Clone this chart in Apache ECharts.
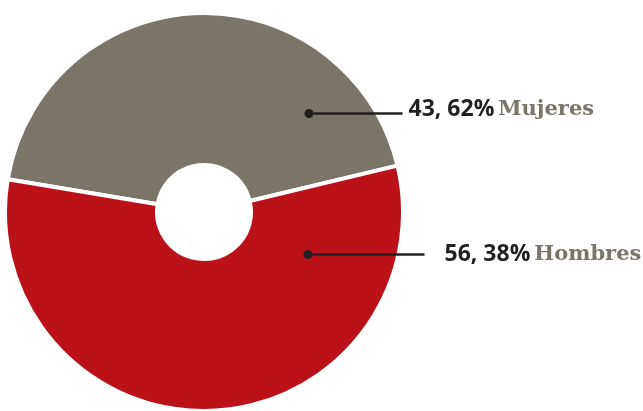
<!DOCTYPE html>
<html>
<head>
<meta charset="utf-8">
<script src="https://cdn.jsdelivr.net/npm/echarts@6/dist/echarts.min.js"></script>
<style>
html,body{margin:0;padding:0;background:#fff;}
#chart{width:643px;height:411px;}
</style>
</head>
<body>
<div id="chart"></div>
<script>
// Data
const categories = ['Mujeres', 'Hombres'];
const values = [43.62, 56.38];
const valueLabels = ['43, 62%', '56, 38%'];
const colors = ['#7b7468', '#bb1119'];

// Label layout (annotation placement)
const labelAnchors = [
  { x: 304.5, y: 113.5, line: 89, gap: 6, raise: 8 },
  { x: 303.5, y: 254.5, line: 112, gap: 20, raise: 0 }
];

const chart = echarts.init(document.getElementById('chart'), null, { renderer: 'canvas' });

const data = categories.map((name, i) => ({
  name: name,
  value: values[i],
  itemStyle: { color: colors[i] },
  label: {
    formatter: '{dot|}{line|}{gap|}{pct|' + valueLabels[i] + '}{sp| }{name|' + name + '}',
    rich: {
      dot: { width: 9, height: 9, borderRadius: 4.5, backgroundColor: '#231f20', verticalAlign: 'middle' },
      line: { width: labelAnchors[i].line, height: 2.5, backgroundColor: '#231f20', verticalAlign: 'middle' },
      gap: { width: labelAnchors[i].gap, height: 2, verticalAlign: 'middle' },
      pct: { fontFamily: 'Open Sans', fontWeight: 'bold', fontSize: 23, color: '#231f20', verticalAlign: 'middle', padding: [0, 0, labelAnchors[i].raise, 0] },
      sp: { fontSize: 10, width: 4, verticalAlign: 'middle' },
      name: { fontFamily: 'DejaVu Serif', fontWeight: 'bold', fontSize: 21, color: '#7b7468', verticalAlign: 'middle', padding: [0, 0, labelAnchors[i].raise, 0] }
    }
  }
}));

chart.setOption({
  animation: false,
  backgroundColor: '#ffffff',
  series: [{
    type: 'pie',
    center: [204, 212],
    radius: [47, 199],
    startAngle: 170.5,
    clockwise: true,
    avoidLabelOverlap: false,
    itemStyle: { borderColor: '#ffffff', borderWidth: 4 },
    label: { show: true, position: 'outside' },
    labelLine: { show: false },
    labelLayout: function (params) {
      const a = labelAnchors[params.dataIndex];
      return { x: a.x, y: a.y, align: 'left', verticalAlign: 'middle' };
    },
    emphasis: { disabled: true },
    data: data
  }]
});
</script>
</body>
</html>
